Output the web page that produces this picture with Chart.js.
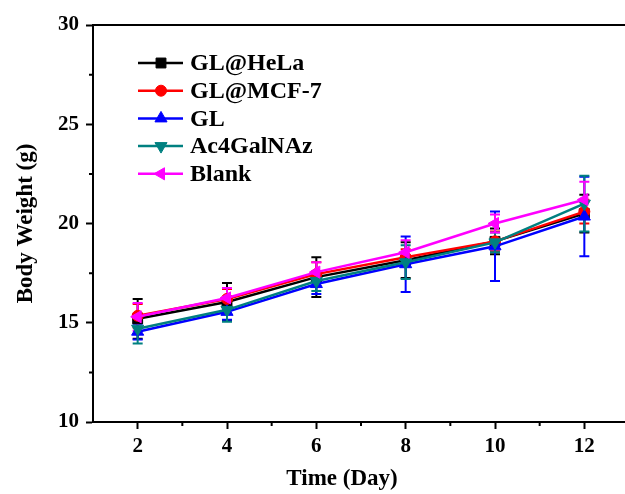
<!DOCTYPE html>
<html>
<head>
<meta charset="utf-8">
<script src="https://cdn.jsdelivr.net/npm/chart.js@4"></script>
<style>
  body { margin: 0; overflow: hidden; background: #fff; }
</style>
</head>
<body>
<canvas id="myChart" width="640" height="494"></canvas>
<script>
'use strict';
// data
const days = [2, 4, 6, 8, 10, 12];
const hela = [15.2, 16.05, 17.3, 18.15, 19.1, 20.5];
const helaErr = [1.0, 0.95, 1.0, 0.9, 0.65, 0.95];
const mcf7 = [15.35, 16.2, 17.45, 18.3, 19.1, 20.6];
const mcf7Err = [0.6, 0.5, 0.6, 0.4, 0.5, 0.6];
const gl = [14.55, 15.55, 16.95, 17.95, 18.85, 20.35];
const glErr = [0.4, 0.4, 0.5, 1.4, 1.75, 2.0];
const ac4 = [14.7, 15.65, 17.1, 18.05, 19.05, 21.0];
const ac4Err = [0.75, 0.6, 0.5, 0.85, 0.5, 1.4];
const blank = [15.3, 16.25, 17.55, 18.55, 20.0, 21.2];
const blankErr = [0.7, 0.5, 0.5, 0.6, 0.45, 0.9];

const xTicks = [2, 4, 6, 8, 10, 12];
const xMinor = [3, 5, 7, 9, 11, 13];
const yTicks = [10, 15, 20, 25, 30];
const yMinor = [12.5, 17.5, 22.5, 27.5];

const serif = '"Liberation Serif", "Times New Roman", serif';

function series(label, vals, errs, color, style, rot, order) {
  return {
    label: label,
    data: days.map((d, i) => ({x: d, y: vals[i]})),
    errors: errs,
    borderColor: color,
    backgroundColor: color,
    borderWidth: 2.5,
    pointStyle: style,
    pointRotation: rot,
    pointRadius: style === 'rect' ? 7 : (style === 'circle' ? 5.5 : 7),
    pointBorderWidth: 1,
    order: order
  };
}

const errorBars = {
  id: 'errorBars',
  beforeDatasetsDraw(chart) {
    const ctx = chart.ctx;
    const xs = chart.scales.x, ys = chart.scales.y;
    const sets = chart.data.datasets.slice().sort((a, b) => b.order - a.order);
    ctx.save();
    sets.forEach(ds => {
      ctx.strokeStyle = ds.borderColor;
      ctx.lineWidth = 2;
      ds.data.forEach((p, i) => {
        const px = xs.getPixelForValue(p.x);
        const top = ys.getPixelForValue(p.y + ds.errors[i]);
        const bot = ys.getPixelForValue(p.y - ds.errors[i]);
        ctx.beginPath();
        ctx.moveTo(px, top); ctx.lineTo(px, bot);
        ctx.moveTo(px - 5, top); ctx.lineTo(px + 5, top);
        ctx.moveTo(px - 5, bot); ctx.lineTo(px + 5, bot);
        ctx.stroke();
      });
    });
    ctx.restore();
  }
};

const frame = {
  id: 'frame',
  afterDraw(chart) {
    const ctx = chart.ctx;
    const a = chart.chartArea;
    const xs = chart.scales.x, ys = chart.scales.y;
    ctx.save();
    ctx.strokeStyle = '#000';
    ctx.lineWidth = 2;
    ctx.beginPath();
    ctx.moveTo(a.left, a.top); ctx.lineTo(a.right, a.top); ctx.lineTo(a.right, a.bottom);
    // minor ticks
    xMinor.forEach(v => {
      const px = xs.getPixelForValue(v);
      ctx.moveTo(px, a.bottom); ctx.lineTo(px, a.bottom + 4);
    });
    yMinor.forEach(v => {
      const py = ys.getPixelForValue(v);
      ctx.moveTo(a.left, py); ctx.lineTo(a.left - 4, py);
    });
    ctx.stroke();

    // x title
    ctx.fillStyle = '#000';
    ctx.font = 'bold 23px ' + serif;
    ctx.textAlign = 'center';
    ctx.textBaseline = 'middle';
    ctx.fillText('Time (Day)', a.left + 249, 479);

    // legend, line with marker like the original
    ctx.font = 'bold 24px ' + serif;
    ctx.textAlign = 'left';
    chart.data.datasets.forEach((ds, i) => {
      const y = a.top + 38 + i * 27.7;
      const x0 = a.left + 45;
      ctx.strokeStyle = ds.borderColor;
      ctx.lineWidth = 2.5;
      ctx.beginPath();
      ctx.moveTo(x0, y); ctx.lineTo(x0 + 45, y);
      ctx.stroke();
      ctx.fillStyle = ds.backgroundColor;
      ctx.lineWidth = 1;
      Chart.helpers.drawPoint(ctx, {
        pointStyle: ds.pointStyle, rotation: ds.pointRotation,
        radius: ds.pointRadius, borderWidth: 1
      }, x0 + 23, y);
      ctx.fillStyle = '#000';
      ctx.fillText(ds.label, x0 + 52, y + 1);
    });
    ctx.restore();
  }
};

const ctx = document.getElementById('myChart').getContext('2d');
new Chart(ctx, {
  type: 'line',
  data: {
    datasets: [
      series('GL@HeLa', hela, helaErr, '#000000', 'rect', 0, 4),
      series('GL@MCF-7', mcf7, mcf7Err, '#ff0000', 'circle', 0, 3),
      series('GL', gl, glErr, '#0000ff', 'triangle', 0, 2),
      series('Ac4GalNAz', ac4, ac4Err, '#008080', 'triangle', 180, 1),
      series('Blank', blank, blankErr, '#ff00ff', 'triangle', 270, 0)
    ]
  },
  options: {
    responsive: false,
    animation: false,
    devicePixelRatio: 1,
    layout: { padding: { top: 25, right: 11, left: 0, bottom: 0 } },
    plugins: { legend: { display: false }, tooltip: { enabled: false } },
    scales: {
      x: {
        type: 'linear',
        min: 1, max: 13,
        afterBuildTicks: s => { s.ticks = xTicks.map(v => ({value: v})); },
        afterFit: s => { s.height = 72; },
        grid: { drawOnChartArea: false, color: '#000', tickLength: 7, tickWidth: 2 },
        border: { color: '#000', width: 2 },
        ticks: { color: '#000', padding: 5, font: { family: serif, size: 21, weight: 'bold' } }
      },
      y: {
        min: 10, max: 30,
        afterBuildTicks: s => { s.ticks = yTicks.map(v => ({value: v})); },
        afterFit: s => { s.width = 93; },
        grid: { drawOnChartArea: false, color: '#000', tickLength: 7, tickWidth: 2 },
        border: { color: '#000', width: 2 },
        ticks: { color: '#000', padding: 7, font: { family: serif, size: 21, weight: 'bold' } },
        title: {
          display: true, text: 'Body Weight (g)', color: '#000',
          padding: { top: 12, bottom: 0 },
          font: { family: serif, size: 23, weight: 'bold' }
        }
      }
    }
  },
  plugins: [errorBars, frame]
});
</script>
</body>
</html>
